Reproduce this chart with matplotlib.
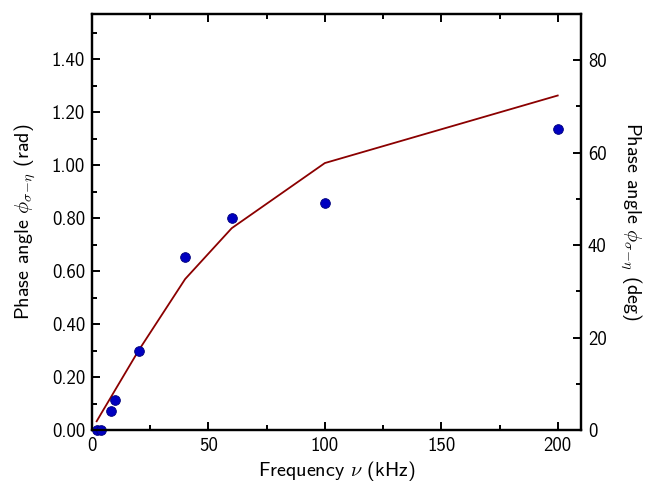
import numpy as np
import matplotlib
matplotlib.use("Agg")
import matplotlib.pyplot as plt
from matplotlib.ticker import MultipleLocator, FormatStrFormatter

# Data
freq_meas = [2, 4, 8, 10, 20, 40, 60, 100, 200]
phase_meas = [0.0, 0.0, 0.073, 0.115, 0.298, 0.655, 0.802, 0.856, 1.136]
freq_model = [2, 4, 8, 10, 20, 40, 60, 100, 200]
phase_model = [0.033, 0.063, 0.122, 0.152, 0.30, 0.57, 0.762, 1.008, 1.263]

plt.rcParams['font.family'] = ['cmss10', 'DejaVu Sans']
plt.rcParams['mathtext.fontset'] = 'cm'
plt.rcParams['axes.unicode_minus'] = False

fig = plt.figure(figsize=(6.45, 4.82), dpi=100)
ax = fig.add_axes([92/645, 52/482, (581-92)/645, (430-14)/482])

ax.plot(freq_model, phase_model, color='#8b0000', lw=1.3, zorder=2)
ax.plot(freq_meas, phase_meas, 'o', ms=7, mfc='#0000c0', mec='#00007a', mew=0.6,
        zorder=3, clip_on=False)

ax.set_xlim(0, 210)
ax.set_ylim(0, np.pi / 2)
ax.xaxis.set_major_locator(MultipleLocator(50))
ax.xaxis.set_minor_locator(MultipleLocator(25))
ax.yaxis.set_major_locator(MultipleLocator(0.2))
ax.yaxis.set_minor_locator(MultipleLocator(0.1))
ax.yaxis.set_major_formatter(FormatStrFormatter('%.2f'))

for s in ax.spines.values():
    s.set_linewidth(1.6)

fs_tick = 13.5
fs_lab = 14.5
ax.tick_params(which='both', direction='in', top=True, right=False,
               labelsize=fs_tick, width=1.4, pad=5)
ax.tick_params(which='major', length=6)
ax.tick_params(which='minor', length=3.5)

ax.set_xlabel(r'Frequency $\nu$ (kHz)', fontsize=fs_lab, labelpad=3)
ax.set_ylabel(r'Phase angle $\phi_{\sigma\!-\!\eta}$ (rad)', fontsize=fs_lab, labelpad=10)

ax2 = ax.twinx()
ax2.set_ylim(0, 90)
ax2.yaxis.set_major_locator(MultipleLocator(20))
ax2.yaxis.set_minor_locator(MultipleLocator(10))
ax2.tick_params(which='both', direction='in', labelsize=fs_tick, width=1.4, pad=5)
ax2.tick_params(which='major', length=6)
ax2.tick_params(which='minor', length=3.5)
for s in ax2.spines.values():
    s.set_linewidth(1.6)
ax2.set_ylabel(r'Phase angle $\phi_{\sigma\!-\!\eta}$ (deg)', fontsize=fs_lab,
               rotation=270, labelpad=26)

fig.savefig('out.png', dpi=100)
